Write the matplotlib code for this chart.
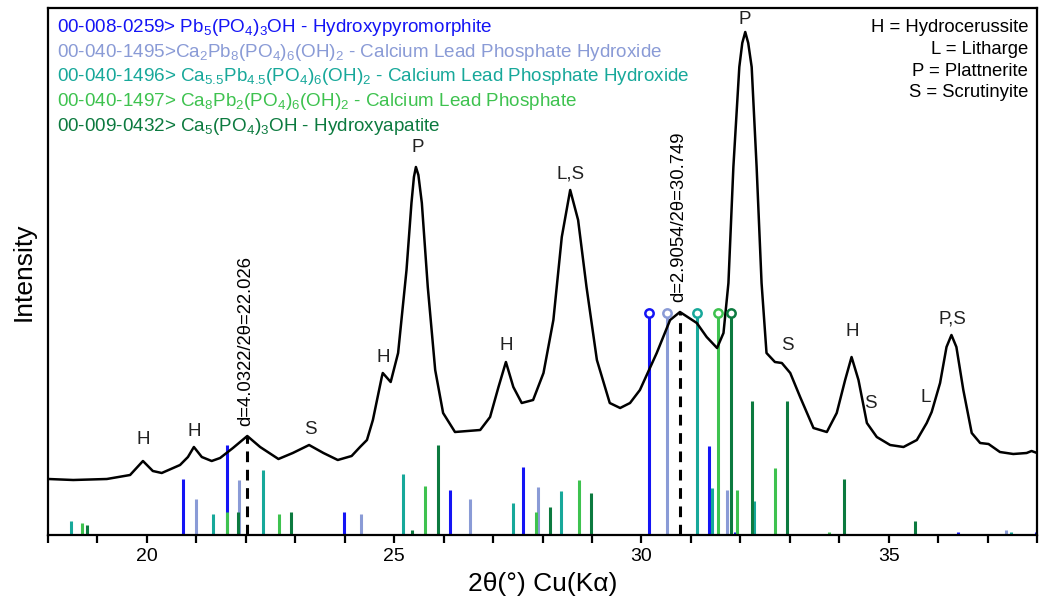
import numpy as np
import matplotlib
matplotlib.use("Agg")
import matplotlib.pyplot as plt

plt.rcParams['font.family'] = ['Liberation Sans', 'DejaVu Sans']
plt.rcParams['mathtext.fontset'] = 'custom'
plt.rcParams['mathtext.rm'] = 'Liberation Sans'
plt.rcParams['mathtext.it'] = 'Liberation Sans:italic'
plt.rcParams['mathtext.bf'] = 'Liberation Sans:bold'

# measured pattern (2theta, intensity a.u.)
tt = [18.01, 18.51, 19.19, 19.66, 19.92, 20.12, 20.30, 20.67, 20.83, 20.95,
      21.11, 21.31, 21.48, 21.74, 22.03, 22.29, 22.66, 22.95, 23.28, 23.57,
      23.86, 24.14, 24.31, 24.45, 24.57, 24.75, 24.77, 24.93, 25.08, 25.25,
      25.35, 25.40, 25.44, 25.49, 25.56, 25.68, 25.83, 25.99, 26.23, 26.74,
      26.94, 27.11, 27.26, 27.41, 27.58, 27.81, 28.02, 28.22, 28.39, 28.56,
      28.72, 28.89, 29.10, 29.36, 29.57, 29.77, 29.97, 30.31, 30.58, 30.78,
      31.12, 31.32, 31.53, 31.66, 31.76, 31.86, 31.98, 32.04, 32.10, 32.16,
      32.23, 32.33, 32.43, 32.53, 32.70, 32.84, 33.01, 33.21, 33.48, 33.75,
      33.95, 34.12, 34.25, 34.39, 34.56, 34.76, 35.03, 35.30, 35.57, 35.77,
      35.87, 36.04, 36.17, 36.27, 36.37, 36.51, 36.68, 36.85, 37.02, 37.25,
      37.52, 37.79, 37.89, 38.00]
counts = [56, 55, 56, 60, 74, 64, 62, 70, 78, 88,
          78, 74, 77, 87, 99, 88, 76, 82, 90, 82,
          75, 79, 88, 95, 115, 158, 162, 153, 182, 265,
          332, 358, 368, 360, 332, 248, 165, 122, 103, 105,
          118, 148, 173, 148, 132, 135, 162, 215, 298, 345,
          315, 248, 175, 132, 127, 132, 145, 182, 215, 223,
          212, 198, 187, 202, 252, 368, 468, 492, 503, 492,
          468, 368, 252, 182, 173, 172, 162, 138, 107, 103,
          122, 155, 178, 155, 112, 98, 90, 88, 95, 112,
          123, 152, 188, 200, 188, 145, 102, 92, 91, 83,
          81, 82, 84, 82]

# reference cards (stick positions / heights), 222 = full-scale line
hpy_pos = [20.74, 21.61, 23.99, 26.13, 27.61, 30.16, 31.37, 31.89, 36.41, 37.97]
hpy_h = [56, 90, 23, 45, 68, 222, 89, 3, 3, 3]
c1495_pos = [20.99, 21.86, 24.33, 26.53, 27.91, 30.52, 31.74, 37.37]
c1495_h = [36, 55, 21, 36, 48, 222, 45, 5]
c1496_pos = [18.46, 21.34, 22.35, 25.17, 27.40, 28.37, 31.13, 31.42, 32.28, 37.47]
c1496_h = [14, 21, 65, 61, 32, 44, 222, 47, 34, 3]
c1497_pos = [18.69, 21.61, 22.68, 25.62, 27.86, 28.74, 31.55, 31.93, 32.70, 33.79]
c1497_h = [12, 23, 21, 49, 23, 55, 222, 45, 67, 3]
hap_pos = [18.79, 21.84, 22.91, 25.37, 25.89, 28.15, 28.99, 31.81, 32.24, 32.94, 34.09, 35.53]
hap_h = [10, 23, 23, 5, 90, 28, 42, 222, 134, 134, 56, 14]

cards = [
    ("00-008-0259> Pb$_5$(PO$_4$)$_3$OH - Hydroxypyromorphite", hpy_pos, hpy_h, '#1414F5'),
    ("00-040-1495>Ca$_2$Pb$_8$(PO$_4$)$_6$(OH)$_2$ - Calcium Lead Phosphate Hydroxide", c1495_pos, c1495_h, '#8A9BD6'),
    ("00-040-1496> Ca$_{5.5}$Pb$_{4.5}$(PO$_4$)$_6$(OH)$_2$ - Calcium Lead Phosphate Hydroxide", c1496_pos, c1496_h, '#17A89A'),
    ("00-040-1497> Ca$_8$Pb$_2$(PO$_4$)$_6$(OH)$_2$ - Calcium Lead Phosphate", c1497_pos, c1497_h, '#3EC24F'),
    ("00-009-0432> Ca$_5$(PO$_4$)$_3$OH - Hydroxyapatite", hap_pos, hap_h, '#0C7A3F'),
]

peak_lbl = ['H', 'H', 'S', 'H', 'P', 'H', 'L,S', 'P', 'S', 'H', 'S', 'L', 'P,S']
peak_x = [19.92, 20.95, 23.30, 24.77, 25.48, 27.26, 28.56, 32.10, 32.96, 34.26, 34.64, 35.74, 36.28]
peak_y = [95, 103, 105, 178, 387, 190, 361, 516, 189, 203, 132, 137, 216]

key_lines = ['H = Hydrocerussite', 'L = Litharge', 'P = Plattnerite', 'S = Scrutinyite']

d_pos = [22.03, 30.78]
d_top = [99, 223]
d_txt = ['d=4.0322/2θ=22.026', 'd=2.9054/2θ=30.749']

fig = plt.figure(figsize=(10.5, 6.07), dpi=100)
ax = fig.add_axes([48/1050, 1-535/607, 989/1050, 527/607])

for i, (lab, pos, h, col) in enumerate(cards):
    ax.vlines(pos, 0, h, colors=col, lw=2.2, zorder=2)
    full = [p for p, v in zip(pos, h) if v >= 222]
    ax.plot(full, [222]*len(full), 'o', ms=6, mfc='white', mec=col, mew=1.8, zorder=4)
    ax.text(18.18, 503 - i*24.7, lab, color=col, fontsize=13.6, va='baseline', ha='left')

ax.plot(tt, counts, color='black', lw=1.8, zorder=3)

for x, top, t in zip(d_pos, d_top, d_txt):
    ax.vlines(x, 0, top, colors='black', lw=2.2, linestyles=(0, (3.5, 2.5)), zorder=5)
    ax.text(x - 0.03, top + 10, t, rotation=90, ha='center', va='bottom', fontsize=13.3)

for t, x, y in zip(peak_lbl, peak_x, peak_y):
    ax.text(x, y, t, ha='center', va='center', fontsize=13.5, color='#222222')

for i, t in enumerate(key_lines):
    ax.text(37.82, 503 - i*21.8, t, ha='right', va='baseline', fontsize=13.3)

ax.set_xlim(18, 38)
ax.set_ylim(0, 527)
ax.set_xticks([20, 25, 30, 35])
ax.set_xticks(np.arange(18, 39, 1), minor=True)
ax.set_yticks([])
ax.tick_params(axis='x', which='both', direction='out', length=6, width=1.6, labelsize=14)
for s in ax.spines.values():
    s.set_linewidth(1.6)
ax.set_xlabel('2θ(°) Cu(Kα)', fontsize=19, labelpad=5)
ax.set_ylabel('Intensity', fontsize=19, labelpad=9)

fig.savefig('out.png', dpi=100)
